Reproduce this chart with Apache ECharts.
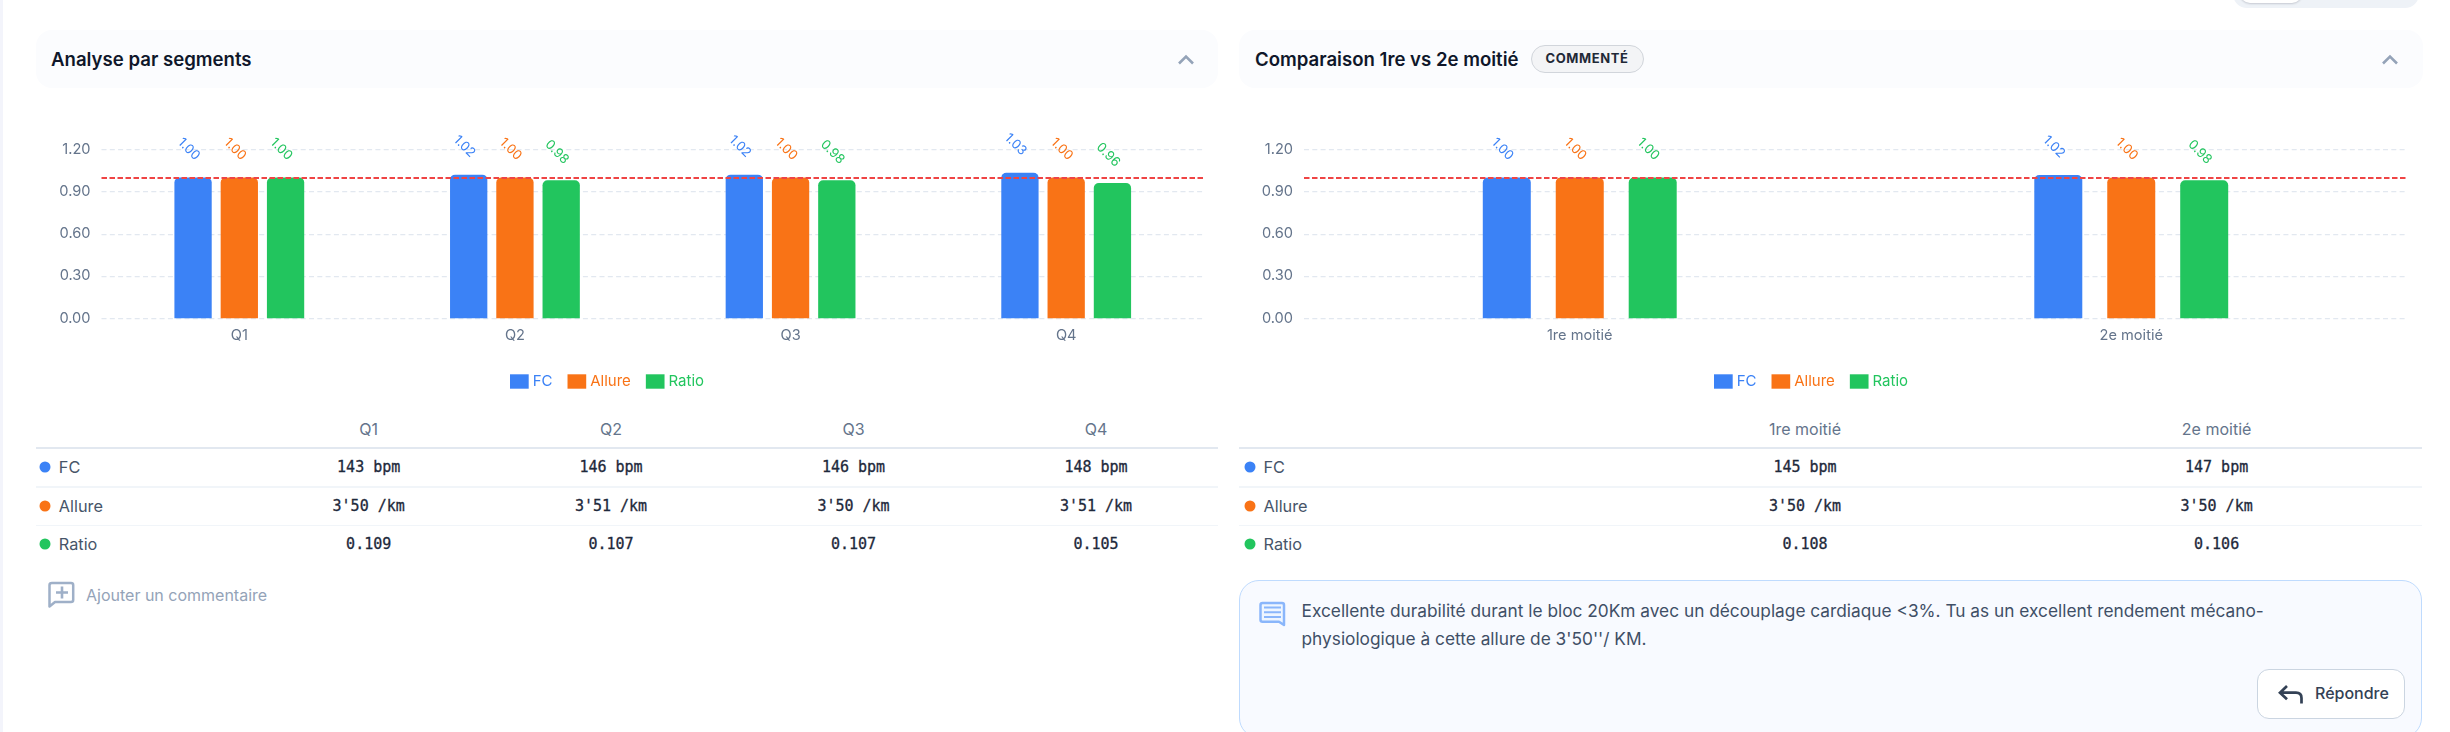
<!DOCTYPE html>
<html lang="fr"><head><meta charset="utf-8">
<script src="https://cdn.jsdelivr.net/npm/echarts@6/dist/echarts.min.js"></script>
<style>
html,body{margin:0;padding:0;width:2450px;height:732px;overflow:hidden;background:#fff;font-family:Inter,sans-serif}
#stripe{position:absolute;left:0;top:0;width:3px;height:732px;background:#f3f4fb}
#chart{position:absolute;left:0;top:0;width:2450px;height:732px}
.a{position:absolute;white-space:nowrap}
.hdr{background:#fbfcfe;border-radius:16px;top:30px;height:58px}
.title{top:59px;transform:translateY(-50%);font-size:18.6px;font-weight:600;color:#0f172a}
.badge{left:1530.5px;top:45px;width:113px;height:28px;box-sizing:border-box;border:1.5px solid #d1d5db;border-radius:14px;background:#f3f4f6;color:#1f2937;font-size:13px;font-weight:700;letter-spacing:.6px;text-align:center;line-height:25px}
.th{font-size:16px;color:#64748b;transform:translate(-50%,-50%)}
.td{font-family:"DejaVu Sans Mono",monospace;font-size:15px;font-weight:400;-webkit-text-stroke:.3px #1e293b;color:#1e293b;transform:translate(-50%,-50%)}
.lab{font-size:16.3px;color:#475569;transform:translateY(-50%)}
.dot{width:11px;height:11px;border-radius:50%;transform:translate(-50%,-50%)}
.hl{height:1.5px}
svg{position:absolute;overflow:visible}
</style></head><body>
<div id="stripe"></div>
<div id="ui"></div>
<div id="chart"></div>
<script>
const seriesNames = ['FC','Allure','Ratio'];
const seriesColors = ['#3b82f6','#f97316','#22c55e'];
const segCategories = ['Q1','Q2','Q3','Q4'];
const segFC = [1.00,1.02,1.02,1.034];
const segAllure = [1.00,1.00,1.00,1.00];
const segRatio = [1.00,0.98,0.98,0.96];
const halfCategories = ['1re moitié','2e moitié'];
const halfFC = [1.00,1.017];
const halfAllure = [1.00,1.00];
const halfRatio = [1.00,0.98];
const yTicks = {min:0,max:1.2,interval:0.3};
const referenceLine = 1.0;
const segTable = {FC:['143 bpm','146 bpm','146 bpm','148 bpm'],Allure:["3'50 /km","3'51 /km","3'50 /km","3'51 /km"],Ratio:['0.109','0.107','0.107','0.105']};
const halfTable = {FC:['145 bpm','147 bpm'],Allure:["3'50 /km","3'50 /km"],Ratio:['0.108','0.106']};
const commentLines = ["Excellente durabilité durant le bloc 20Km avec un découplage cardiaque <3%. Tu as un excellent rendement mécano-","physiologique à cette allure de 3'50''/ KM."];

function bars(name,color,data,xi,width,gap,withLine){
  const s={type:'bar',name,data,xAxisIndex:xi,yAxisIndex:xi,barWidth:width,barGap:gap,
    itemStyle:{color,borderRadius:[5,5,0,0]},
    label:{show:true,position:'top',distance:24,align:'center',verticalAlign:'middle',rotate:-45,offset:[-6,0],
      fontFamily:'Inter',fontSize:13,color,formatter:p=>p.value.toFixed(2)},z:2};
  if(withLine) s.markLine={symbol:'none',silent:true,label:{show:false},lineStyle:{color:'#ef4444',type:[5.5,2.5],width:2},data:[{yAxis:referenceLine}],z:5};
  return s;
}
const axisFont={fontFamily:'Inter',fontSize:14.6,color:'#64748b'};
function xA(i,d){return {type:'category',gridIndex:i,data:d,axisLine:{show:false},axisTick:{show:false},axisLabel:{...axisFont,margin:10},splitLine:{show:false}}}
function yA(i){return {type:'value',gridIndex:i,...yTicks,axisLine:{show:false},axisTick:{show:false},axisLabel:{...axisFont,margin:11,padding:[2,0,0,0],formatter:v=>v.toFixed(2)},splitLine:{lineStyle:{color:'#e2e8f0',type:[5,3.3],width:1.25}}}}
function leg(left){return {left,top:374,padding:0,orient:'horizontal',data:seriesNames,itemWidth:18.7,itemHeight:14.4,itemGap:15,selectedMode:false,icon:'rect',textStyle:{fontFamily:'Inter',fontSize:15,color:'inherit',padding:[0,0,0,-1]}}}
const chart=echarts.init(document.getElementById('chart'));
chart.setOption({animation:false,
  grid:[{left:101.5,width:1102.5,top:149.3,height:169},{left:1304,width:1103,top:149.3,height:169}],
  xAxis:[xA(0,segCategories),xA(1,halfCategories)],yAxis:[yA(0),yA(1)],
  legend:[leg(510),leg(1714)],
  series:[
    bars('FC',seriesColors[0],segFC,0,37.3,'24%',true),bars('Allure',seriesColors[1],segAllure,0,37.3,'24%'),bars('Ratio',seriesColors[2],segRatio,0,37.3,'24%'),
    bars('FC',seriesColors[0],halfFC,1,48,'52%',true),bars('Allure',seriesColors[1],halfAllure,1,48,'52%'),bars('Ratio',seriesColors[2],halfRatio,1,48,'52%')
  ]});

const ui=document.getElementById('ui');
function el(cls,style,text){const d=document.createElement('div');d.className='a '+cls;d.style.cssText=style;if(text!=null)d.textContent=text;ui.appendChild(d);return d}
el('hdr','left:36px;width:1182px');
el('hdr','left:1239px;width:1184px');
el('title','left:51px','Analyse par segments');
el('title','left:1255px','Comparaison 1re vs 2e moitié');
el('badge','','COMMENTÉ');
function table(x0,x1,dotX,labX,cols,cats,data){
  [[448,'#e2e8f0'],[487,'#f1f5f9'],[525.3,'#f1f5f9']].forEach(([y,c])=>el('hl',`left:${x0}px;width:${x1-x0}px;top:${y-.75}px;background:${c}`));
  cats.forEach((c,i)=>el('th',`left:${cols[i]}px;top:428.5px`,c));
  const ys=[467,506,543.6];
  seriesNames.forEach((n,r)=>{
    el('dot',`left:${dotX}px;top:${ys[r]}px;background:${seriesColors[r]}`);
    el('lab',`left:${labX}px;top:${ys[r]}px`,n);
    data[n].forEach((v,i)=>el('td',`left:${cols[i]}px;top:${ys[r]}px`,v));
  });
}
table(35.5,1218,44.7,58.8,[368.7,611,853.5,1096],segCategories,segTable);
table(1239.3,2422,1250,1263.5,[1805,2216.6],halfCategories,halfTable);
el('lab','left:86px;top:595px;color:#94a3b8;font-size:16px','Ajouter un commentaire');
el('','left:1239px;top:579.5px;width:1183px;height:158px;box-sizing:border-box;border:1.5px solid #bfdbfe;border-radius:20px;background:#f8faff');
commentLines.forEach((t,i)=>el('lab',`left:1301.5px;top:${610+28*i}px;color:#3f4f66;font-size:17.3px`,t));
el('',`left:2257.3px;top:669.3px;width:147.7px;height:49.5px;box-sizing:border-box;border:1.5px solid #cbd5e1;border-radius:12px;background:#fff`);
el('lab','left:2315px;top:692.5px;color:#334155;font-size:16px;font-weight:500','Répondre');
el('','left:2233px;top:-20px;width:186px;height:27.7px;border-radius:14px;background:#eef2f7');
el('','left:2240px;top:-20px;width:61.7px;height:22.7px;border-radius:10px;background:#fff;box-shadow:0 1px 2px rgba(15,23,42,.18)');
ui.insertAdjacentHTML('beforeend',`
<svg style="left:0;top:0" width="2450" height="732" fill="none">
<path d="M1179 63.5 L1186 56.5 L1193 63.5" stroke="#94a3b8" stroke-width="2.6"/>
<path d="M2383 63.5 L2390 56.5 L2397 63.5" stroke="#94a3b8" stroke-width="2.6"/>
<path d="M52 583 H71 Q73.2 583 73.2 585 V600 Q73.2 602 71 602 H55 L49.5 606.5 V585 Q49.5 583 52 583 Z" stroke="#9fb0c8" stroke-width="2.5" stroke-linejoin="round"/>
<path d="M62 586.5 V598.5 M56 592.5 H68" stroke="#9fb0c8" stroke-width="2.6"/>
<path d="M1262.5 603 H1282 Q1284 603 1284 605 V625 L1279 621.7 H1262.5 Q1260.5 621.7 1260.5 619.7 V605 Q1260.5 603 1262.5 603 Z" fill="#eff6ff" stroke="#8ab6fb" stroke-width="2.5" stroke-linejoin="round"/>
<path d="M1264 607.5 H1281 M1264 612.2 H1281 M1264 616.9 H1281" stroke="#8ab6fb" stroke-width="2"/>
<path d="M2287 686 L2280 692.7 L2287 699.3 M2280 692.7 H2296 Q2301.5 692.7 2301.5 698 V703.5" stroke="#334155" stroke-width="2.7"/>
</svg>`);
</script></body></html>
